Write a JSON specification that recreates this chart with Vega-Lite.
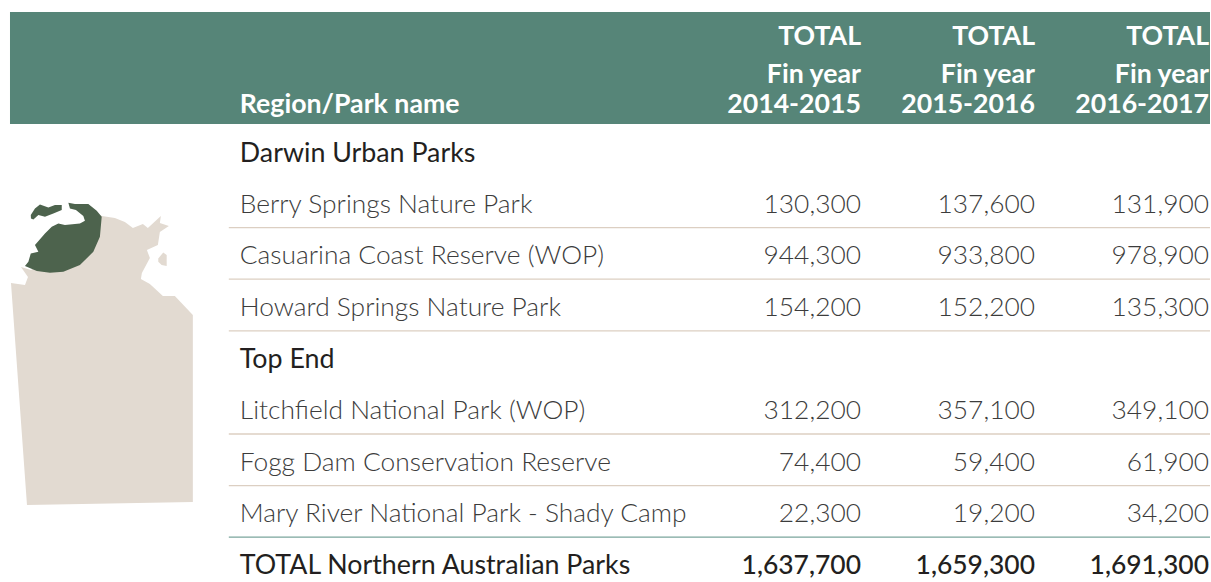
{
"$schema":"https://vega.github.io/schema/vega-lite/v6.json",
"autosize":{"type":"fit","contains":"padding"},
"padding":0,
"width":1211,
"height":582,
"background":"white",
"config":{"view":{"stroke":null},"text":{"font":"Lato"}},
"datasets":{
"table":[
{"row":0,"name":"Darwin Urban Parks","kind":"section"},
{"row":1,"name":"Berry Springs Nature Park","kind":"park","closes":"no","FY 2014-2015":130300,"FY 2015-2016":137600,"FY 2016-2017":131900},
{"row":2,"name":"Casuarina Coast Reserve (WOP)","kind":"park","closes":"no","FY 2014-2015":944300,"FY 2015-2016":933800,"FY 2016-2017":978900},
{"row":3,"name":"Howard Springs Nature Park","kind":"park","closes":"no","FY 2014-2015":154200,"FY 2015-2016":152200,"FY 2016-2017":135300},
{"row":4,"name":"Top End","kind":"section"},
{"row":5,"name":"Litchfield National Park (WOP)","kind":"park","closes":"no","FY 2014-2015":312200,"FY 2015-2016":357100,"FY 2016-2017":349100},
{"row":6,"name":"Fogg Dam Conservation Reserve","kind":"park","closes":"no","FY 2014-2015":74400,"FY 2015-2016":59400,"FY 2016-2017":61900},
{"row":7,"name":"Mary River National Park - Shady Camp","kind":"park","closes":"yes","FY 2014-2015":22300,"FY 2015-2016":19200,"FY 2016-2017":34200},
{"row":8,"name":"TOTAL Northern Australian Parks","kind":"total","FY 2014-2015":1637700,"FY 2015-2016":1659300,"FY 2016-2017":1691300}
],
"columns":[
{"col":"FY 2014-2015","total":"TOTAL","fin":"Fin year","period":"2014-2015"},
{"col":"FY 2015-2016","total":"TOTAL","fin":"Fin year","period":"2015-2016"},
{"col":"FY 2016-2017","total":"TOTAL","fin":"Fin year","period":"2016-2017"}
],
"map":[
{"shape":"land","seq":1,"lon":128.95,"lat":-15.15},{"shape":"land","seq":2,"lon":129.65,"lat":-15.25},{"shape":"land","seq":3,"lon":129.8,"lat":-14.85},{"shape":"land","seq":4,"lon":129.45,"lat":-14.35},{"shape":"land","seq":5,"lon":129.95,"lat":-14.5},{"shape":"land","seq":5.5,"lon":133.0,"lat":-12.5},{"shape":"land","seq":6,"lon":133.4,"lat":-11.75},{"shape":"land","seq":7,"lon":133.5,"lat":-11.8},{"shape":"land","seq":8,"lon":134.15,"lat":-11.9},{"shape":"land","seq":9,"lon":134.65,"lat":-12.1},{"shape":"land","seq":10,"lon":135.05,"lat":-12.4},{"shape":"land","seq":11,"lon":135.55,"lat":-12.2},{"shape":"land","seq":12,"lon":135.8,"lat":-12.4},{"shape":"land","seq":13,"lon":136.45,"lat":-11.8},{"shape":"land","seq":14,"lon":136.4,"lat":-12.15},{"shape":"land","seq":15,"lon":136.85,"lat":-12.3},{"shape":"land","seq":16,"lon":136.4,"lat":-12.6},{"shape":"land","seq":17,"lon":136.3,"lat":-13.25},{"shape":"land","seq":18,"lon":135.75,"lat":-13.5},{"shape":"land","seq":19,"lon":135.9,"lat":-13.9},{"shape":"land","seq":20,"lon":135.5,"lat":-14.65},{"shape":"land","seq":21,"lon":135.45,"lat":-14.95},{"shape":"land","seq":22,"lon":135.9,"lat":-15.2},{"shape":"land","seq":23,"lon":136.55,"lat":-15.8},{"shape":"land","seq":24,"lon":137.15,"lat":-15.8},{"shape":"land","seq":25,"lon":138.05,"lat":-16.75},{"shape":"land","seq":26,"lon":138.05,"lat":-26.1},{"shape":"land","seq":27,"lon":129.75,"lat":-26.25},
{"shape":"isle","seq":1,"lon":136.32,"lat":-13.92},{"shape":"isle","seq":2,"lon":136.57,"lat":-13.62},{"shape":"isle","seq":3,"lon":136.74,"lat":-13.75},{"shape":"isle","seq":4,"lon":136.74,"lat":-14.3},{"shape":"isle","seq":5,"lon":136.49,"lat":-14.25},{"shape":"isle","seq":6,"lon":136.32,"lat":-14.09},
{"shape":"region","seq":1,"lon":131.82,"lat":-11.14},{"shape":"region","seq":2,"lon":132.15,"lat":-11.2},{"shape":"region","seq":3,"lon":132.82,"lat":-11.2},{"shape":"region","seq":4,"lon":133.24,"lat":-11.54},{"shape":"region","seq":5,"lon":133.49,"lat":-11.84},{"shape":"region","seq":6,"lon":133.4,"lat":-12.84},{"shape":"region","seq":7,"lon":133.07,"lat":-13.59},{"shape":"region","seq":8,"lon":132.4,"lat":-14.25},{"shape":"region","seq":9,"lon":131.57,"lat":-14.59},{"shape":"region","seq":10,"lon":130.9,"lat":-14.64},{"shape":"region","seq":11,"lon":130.24,"lat":-14.55},{"shape":"region","seq":12,"lon":129.65,"lat":-14.3},{"shape":"region","seq":13,"lon":129.82,"lat":-14.09},{"shape":"region","seq":14,"lon":129.94,"lat":-13.67},{"shape":"region","seq":15,"lon":130.32,"lat":-13.59},{"shape":"region","seq":16,"lon":130.15,"lat":-13.25},{"shape":"region","seq":17,"lon":130.65,"lat":-12.67},{"shape":"region","seq":18,"lon":130.99,"lat":-12.34},{"shape":"region","seq":19,"lon":131.32,"lat":-12.17},{"shape":"region","seq":20,"lon":131.65,"lat":-12.25},{"shape":"region","seq":21,"lon":132.4,"lat":-12.17},{"shape":"region","seq":22,"lon":132.65,"lat":-12.04},{"shape":"region","seq":23,"lon":132.57,"lat":-11.8},{"shape":"region","seq":24,"lon":132.2,"lat":-11.5},{"shape":"region","seq":25,"lon":131.9,"lat":-11.42},
{"shape":"tiwi","seq":1,"lon":129.94,"lat":-11.75},{"shape":"tiwi","seq":2,"lon":130.15,"lat":-11.42},{"shape":"tiwi","seq":3,"lon":130.4,"lat":-11.22},{"shape":"tiwi","seq":4,"lon":130.82,"lat":-11.37},{"shape":"tiwi","seq":5,"lon":131.15,"lat":-11.25},{"shape":"tiwi","seq":6,"lon":131.49,"lat":-11.25},{"shape":"tiwi","seq":7,"lon":131.49,"lat":-11.5},{"shape":"tiwi","seq":8,"lon":131.07,"lat":-11.67},{"shape":"tiwi","seq":9,"lon":130.65,"lat":-11.84},{"shape":"tiwi","seq":10,"lon":130.32,"lat":-11.75},{"shape":"tiwi","seq":11,"lon":130.07,"lat":-11.97},{"shape":"tiwi","seq":12,"lon":129.95,"lat":-11.92}
]
},
"resolve":{"scale":{"x":"independent","y":"independent","color":"independent"}},
"layer":[
{"data":{"name":"map"},
 "mark":{"type":"line","filled":true,"strokeWidth":0},
 "encoding":{
  "x":{"field":"lon","type":"quantitative","axis":null,"scale":{"domain":[128.4,188.95],"zero":false,"nice":false}},
  "y":{"field":"lat","type":"quantitative","axis":null,"scale":{"domain":[-30.1,-1],"zero":false,"nice":false}},
  "color":{"field":"shape","type":"nominal","legend":null,"scale":{"domain":["land","isle","region","tiwi"],"range":["#e2dad1","#e2dad1","#4d634d","#4d634d"]}},
  "order":{"field":"seq","type":"quantitative"}
 }},
{"data":{"values":[{"band":"header"}]},
 "mark":{"type":"rect","color":"#568578"},
 "encoding":{
  "x":{"datum":10,"type":"quantitative","axis":null,"scale":{"domain":[0,1211],"nice":false,"zero":false}},
  "x2":{"datum":1211},
  "y":{"datum":-2.713,"type":"quantitative","axis":null,"scale":{"domain":[8.333,-2.946],"nice":false,"zero":false}},
  "y2":{"datum":-0.543}
 }},
{"data":{"name":"table"},
 "transform":[{"filter":"datum.kind === 'park'"}],
 "mark":{"type":"rule","strokeWidth":1.3,"yOffset":24},
 "encoding":{
  "x":{"datum":229,"type":"quantitative","axis":null,"scale":{"domain":[0,1211],"nice":false,"zero":false}},
  "x2":{"datum":1211},
  "y":{"field":"row","type":"quantitative","axis":null,"scale":{"domain":[8.333,-2.946],"nice":false,"zero":false}},
  "color":{"field":"closes","type":"nominal","legend":null,"scale":{"domain":["no","yes"],"range":["#dccfc2","#7aa59c"]}}
 }},
{"data":{"name":"table"},
 "transform":[{"filter":"datum.kind === 'park'"}],
 "mark":{"type":"text","align":"left","baseline":"middle","dy":1,"font":"Lato","fontWeight":300,"fontSize":26.35,"color":"#3c3c3c"},
 "encoding":{
  "x":{"datum":240,"type":"quantitative","axis":null,"scale":{"domain":[0,1211],"nice":false,"zero":false}},
  "y":{"field":"row","type":"quantitative","axis":null,"scale":{"domain":[8.333,-2.946],"nice":false,"zero":false}},
  "text":{"field":"name","type":"nominal"}
 }},
{"data":{"name":"table"},
 "transform":[{"filter":"datum.kind !== 'park'"}],
 "mark":{"type":"text","align":"left","baseline":"middle","dy":1.5,"font":"Lato","fontWeight":400,"fontSize":26.8,"color":"#231f20"},
 "encoding":{
  "x":{"datum":240,"type":"quantitative","axis":null,"scale":{"domain":[0,1211],"nice":false,"zero":false}},
  "y":{"field":"row","type":"quantitative","axis":null,"scale":{"domain":[8.333,-2.946],"nice":false,"zero":false}},
  "text":{"field":"name","type":"nominal"}
 }},
{"data":{"name":"table"},
 "transform":[{"filter":"datum.kind === 'park'"},{"fold":["FY 2014-2015","FY 2015-2016","FY 2016-2017"],"as":["col","visitors"]}],
 "mark":{"type":"text","align":"right","baseline":"middle","dy":1,"font":"Lato","fontWeight":300,"fontSize":26.35,"color":"#3c3c3c"},
 "encoding":{
  "x":{"field":"col","type":"nominal","axis":null,"scale":{"type":"point","domain":["FY 2014-2015","FY 2015-2016","FY 2016-2017"],"range":[861,1209],"padding":0}},
  "y":{"field":"row","type":"quantitative","axis":null,"scale":{"domain":[8.333,-2.946],"nice":false,"zero":false}},
  "text":{"field":"visitors","type":"quantitative","format":","}
 }},
{"data":{"name":"table"},
 "transform":[{"filter":"datum.kind === 'total'"},{"fold":["FY 2014-2015","FY 2015-2016","FY 2016-2017"],"as":["col","visitors"]}],
 "mark":{"type":"text","align":"right","baseline":"middle","dy":1.5,"font":"Lato","fontWeight":500,"fontSize":26.45,"color":"#231f20"},
 "encoding":{
  "x":{"field":"col","type":"nominal","axis":null,"scale":{"type":"point","domain":["FY 2014-2015","FY 2015-2016","FY 2016-2017"],"range":[861,1209],"padding":0}},
  "y":{"field":"row","type":"quantitative","axis":null,"scale":{"domain":[8.333,-2.946],"nice":false,"zero":false}},
  "text":{"field":"visitors","type":"quantitative","format":","}
 }},
{"data":{"name":"columns"},
 "mark":{"type":"text","align":"right","baseline":"middle","dy":1,"font":"Lato","fontWeight":700,"fontSize":26.7,"color":"white"},
 "encoding":{
  "x":{"field":"col","type":"nominal","axis":null,"scale":{"type":"point","domain":["FY 2014-2015","FY 2015-2016","FY 2016-2017"],"range":[861,1209],"padding":0}},
  "y":{"datum":-2.248,"type":"quantitative","axis":null,"scale":{"domain":[8.333,-2.946],"nice":false,"zero":false}},
  "text":{"field":"total","type":"nominal"}
 }},
{"data":{"name":"columns"},
 "mark":{"type":"text","align":"right","baseline":"middle","dy":1,"font":"Lato","fontWeight":700,"fontSize":26.7,"color":"white"},
 "encoding":{
  "x":{"field":"col","type":"nominal","axis":null,"scale":{"type":"point","domain":["FY 2014-2015","FY 2015-2016","FY 2016-2017"],"range":[861,1209],"padding":0}},
  "y":{"datum":-1.512,"type":"quantitative","axis":null,"scale":{"domain":[8.333,-2.946],"nice":false,"zero":false}},
  "text":{"field":"fin","type":"nominal"}
 }},
{"data":{"name":"columns"},
 "mark":{"type":"text","align":"right","baseline":"middle","dy":2,"font":"Lato","fontWeight":700,"fontSize":26.7,"color":"white"},
 "encoding":{
  "x":{"field":"col","type":"nominal","axis":null,"scale":{"type":"point","domain":["FY 2014-2015","FY 2015-2016","FY 2016-2017"],"range":[861,1209],"padding":0}},
  "y":{"datum":-0.95,"type":"quantitative","axis":null,"scale":{"domain":[8.333,-2.946],"nice":false,"zero":false}},
  "text":{"field":"period","type":"nominal"}
 }},
{"data":{"values":[{"heading":"Region/Park name"}]},
 "mark":{"type":"text","align":"left","baseline":"middle","dy":2,"font":"Lato","fontWeight":700,"fontSize":26.7,"color":"white"},
 "encoding":{
  "x":{"datum":240,"type":"quantitative","axis":null,"scale":{"domain":[0,1211],"nice":false,"zero":false}},
  "y":{"datum":-0.95,"type":"quantitative","axis":null,"scale":{"domain":[8.333,-2.946],"nice":false,"zero":false}},
  "text":{"field":"heading","type":"nominal"}
 }}
]
}
